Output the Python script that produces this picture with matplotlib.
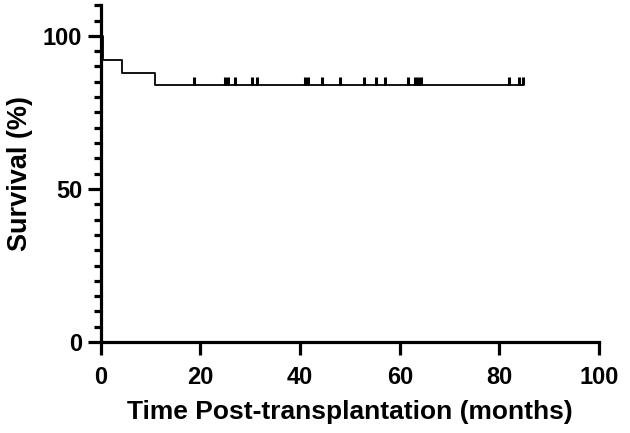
import matplotlib
matplotlib.use("Agg")
import matplotlib.pyplot as plt
import numpy as np

# Kaplan-Meier step data (months, survival %)
step_times = [0, 0.5, 4.3, 10.9, 84.8]
step_surv = [100, 92, 88, 84, 84]

# Censored observations (months), all at 84% survival
censor_times = [18.7, 24.9, 25.6, 26.9, 30.4, 31.3, 40.9, 41.6, 44.4, 47.9,
                52.9, 55.2, 57.0, 61.7, 63.0, 63.6, 64.3, 81.9, 83.9, 84.8]
censor_surv = 84

xticks = [0, 20, 40, 60, 80, 100]
yticks = [0, 50, 100]

plt.rcParams['font.family'] = ['Liberation Sans', 'DejaVu Sans']
plt.rcParams['font.weight'] = 'bold'

fig = plt.figure(figsize=(6.3, 4.33), dpi=100)
ax = fig.add_axes([0.160, 0.210, 0.791, 0.778])

ax.step(step_times, step_surv, where='post', color='black', lw=1.3,
        clip_on=False, zorder=3)
ax.vlines(censor_times, censor_surv, censor_surv + 2.4, color='black', lw=2.2,
          zorder=3)

ax.set_xlim(0, 100)
ax.set_ylim(0, 110)
ax.set_xticks(xticks)
ax.set_yticks(yticks)
ax.set_yticks(np.arange(0, 111, 5), minor=True)

for s in ['top', 'right']:
    ax.spines[s].set_visible(False)
for s in ['left', 'bottom']:
    ax.spines[s].set_linewidth(2.3)

ax.tick_params(axis='both', which='major', length=9.5, width=2.3,
               labelsize=17)
ax.tick_params(axis='x', which='major', pad=8)
ax.tick_params(axis='y', which='major', pad=4)
ax.tick_params(axis='y', which='minor', length=5, width=2.3)
for lab in ax.get_xticklabels() + ax.get_yticklabels():
    lab.set_fontweight('bold')

ax.set_xlabel('Time Post-transplantation (months)', fontsize=19,
              fontweight='bold', labelpad=8)
ax.set_ylabel('Survival (%)', fontsize=19.5, fontweight='bold', labelpad=7)

fig.savefig('out.png', dpi=100)
